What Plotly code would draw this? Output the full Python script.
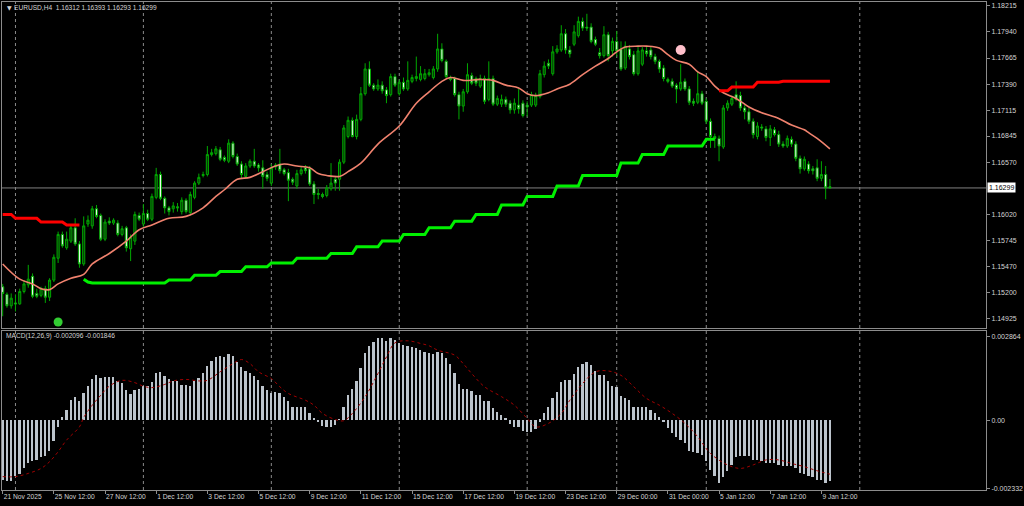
import plotly.graph_objects as go

# EURUSD H4 candles (bar index 0 = 21 Nov 2025 12:00)
opens = [
    1.1526, 1.1518, 1.1506, 1.1509, 1.1508, 1.1521, 1.1528, 1.1537, 1.1519, 1.1517,
    1.1524, 1.1515, 1.1533, 1.1556, 1.1581, 1.1567, 1.1574, 1.1588, 1.1571, 1.1550,
    1.1592, 1.1590, 1.1608, 1.1601, 1.1576, 1.1595, 1.1593, 1.1593, 1.1581, 1.1588,
    1.1566, 1.1574, 1.1601, 1.1592, 1.1603, 1.1597, 1.1620, 1.1644, 1.1619, 1.1609,
    1.1608, 1.1610, 1.1605, 1.1617, 1.1604, 1.1620, 1.1635, 1.1643, 1.1644, 1.1665,
    1.1666, 1.1670, 1.1662, 1.1658, 1.1677, 1.1663, 1.1655, 1.1642, 1.1653, 1.1658,
    1.1654, 1.1651, 1.1644, 1.1635, 1.1652, 1.1655, 1.1649, 1.1646, 1.1639, 1.1632,
    1.1645, 1.1651, 1.1650, 1.1634, 1.1624, 1.1623, 1.1622, 1.1629, 1.1639, 1.1639,
    1.1657, 1.1684, 1.1701, 1.1684, 1.1702, 1.1729, 1.1755, 1.1738, 1.1734, 1.1738,
    1.1733, 1.1728, 1.1747, 1.1729, 1.1741, 1.1734, 1.1742, 1.1745, 1.1744, 1.1745,
    1.1749, 1.1746, 1.1755, 1.1776, 1.1763, 1.1746, 1.1745, 1.1728, 1.1716, 1.1731,
    1.1748, 1.1745, 1.1737, 1.1745, 1.1723, 1.1745, 1.1718, 1.1718, 1.1723, 1.1719,
    1.1712, 1.1717, 1.1719, 1.1717, 1.1717, 1.1717, 1.1726, 1.1749, 1.1761, 1.1750,
    1.1773, 1.1775, 1.1792, 1.1775, 1.1781, 1.1790, 1.1805, 1.1799, 1.1799, 1.1786,
    1.1772, 1.1769, 1.1791, 1.1774, 1.1784, 1.1776, 1.1756, 1.1776, 1.1770, 1.1750,
    1.1760, 1.1774, 1.1775, 1.1768, 1.1763, 1.1756, 1.1744, 1.1742, 1.1738, 1.1734,
    1.1742, 1.1734, 1.1721, 1.1720, 1.1729, 1.1721, 1.1700, 1.1684, 1.1682, 1.1673,
    1.1714, 1.1718, 1.1728, 1.1727, 1.1714, 1.1710, 1.1700, 1.1684, 1.1694, 1.1692,
    1.1683, 1.1691, 1.1686, 1.1676, 1.1674, 1.1681, 1.1676, 1.1661, 1.1650, 1.1655,
    1.1650, 1.1651, 1.1640, 1.1644, 1.16312,
]
highs = [
    1.1529, 1.1520, 1.1519, 1.1518, 1.1524, 1.1533, 1.1549, 1.1540, 1.1524, 1.1526,
    1.1527, 1.1535, 1.1560, 1.1584, 1.1584, 1.1584, 1.1591, 1.1598, 1.1574, 1.1600,
    1.1601, 1.1611, 1.1612, 1.1603, 1.1597, 1.1599, 1.1598, 1.1596, 1.1590, 1.1590,
    1.1581, 1.1605, 1.1604, 1.1613, 1.1607, 1.1624, 1.1651, 1.1647, 1.1621, 1.1611,
    1.1615, 1.1614, 1.1620, 1.1619, 1.1626, 1.1637, 1.1645, 1.1647, 1.1674, 1.1671,
    1.1674, 1.1673, 1.1664, 1.1681, 1.1679, 1.1666, 1.1658, 1.1656, 1.1660, 1.1671,
    1.1656, 1.1659, 1.1647, 1.1655, 1.1656, 1.1671, 1.1651, 1.1650, 1.1641, 1.1649,
    1.1652, 1.1654, 1.1653, 1.1637, 1.1629, 1.1625, 1.1633, 1.1656, 1.1642, 1.1660,
    1.1696, 1.1705, 1.1704, 1.1707, 1.1736, 1.1761, 1.1763, 1.1740, 1.1744, 1.1742,
    1.1736, 1.1750, 1.1750, 1.1744, 1.1746, 1.1763, 1.1749, 1.1768, 1.1758, 1.1755,
    1.1755, 1.1758, 1.1792, 1.1782, 1.1765, 1.1748, 1.1747, 1.1731, 1.1734, 1.1761,
    1.1751, 1.1747, 1.1749, 1.1748, 1.1763, 1.1748, 1.1727, 1.1728, 1.1726, 1.1722,
    1.1724, 1.1734, 1.1722, 1.1721, 1.1731, 1.1730, 1.1754, 1.1763, 1.1765, 1.1779,
    1.1780, 1.1801, 1.1797, 1.1779, 1.1801, 1.1810, 1.1809, 1.1813, 1.1803, 1.1789,
    1.1777, 1.1800, 1.1794, 1.1788, 1.1795, 1.1784, 1.1784, 1.1780, 1.1774, 1.1778,
    1.1778, 1.1778, 1.1778, 1.1771, 1.1765, 1.1759, 1.1746, 1.1745, 1.1740, 1.1760,
    1.1745, 1.1737, 1.1724, 1.1752, 1.1732, 1.1724, 1.1703, 1.1687, 1.1685, 1.1717,
    1.1722, 1.1727, 1.1742, 1.1731, 1.1717, 1.1714, 1.1703, 1.1699, 1.1697, 1.1695,
    1.1696, 1.1694, 1.1690, 1.1679, 1.1685, 1.1684, 1.1679, 1.1664, 1.1663, 1.1658,
    1.1653, 1.1660, 1.1658, 1.1653, 1.16393,
]
lows = [
    1.1495, 1.1504, 1.1503, 1.1500, 1.1507, 1.1519, 1.1525, 1.1514, 1.1514, 1.1515,
    1.1509, 1.1511, 1.1531, 1.1551, 1.1567, 1.1565, 1.1572, 1.1569, 1.1546, 1.1548,
    1.1589, 1.1587, 1.1598, 1.1574, 1.1574, 1.1591, 1.1591, 1.1579, 1.1579, 1.1563,
    1.1553, 1.1570, 1.1595, 1.1589, 1.1595, 1.1595, 1.1618, 1.1617, 1.1603, 1.1601,
    1.1604, 1.1605, 1.1602, 1.1603, 1.1601, 1.1618, 1.1633, 1.1641, 1.1642, 1.1663,
    1.1664, 1.1658, 1.1657, 1.1656, 1.1661, 1.1653, 1.1640, 1.1640, 1.1651, 1.1651,
    1.1647, 1.1629, 1.1637, 1.1632, 1.1649, 1.1645, 1.1643, 1.1616, 1.1633, 1.1629,
    1.1643, 1.1645, 1.1632, 1.1613, 1.1618, 1.1619, 1.1620, 1.1627, 1.1627, 1.1627,
    1.1655, 1.1682, 1.1683, 1.1681, 1.1700, 1.1727, 1.1736, 1.1732, 1.1732, 1.1729,
    1.1719, 1.1726, 1.1736, 1.1727, 1.1732, 1.1732, 1.1740, 1.1742, 1.1742, 1.1743,
    1.1747, 1.1744, 1.1752, 1.1762, 1.1745, 1.1742, 1.1726, 1.1702, 1.1710, 1.1729,
    1.1738, 1.1737, 1.1735, 1.1718, 1.1721, 1.1716, 1.1716, 1.1715, 1.1715, 1.1708,
    1.1708, 1.1708, 1.1704, 1.1705, 1.1715, 1.1715, 1.1724, 1.1746, 1.1755, 1.1748,
    1.1771, 1.1773, 1.1771, 1.1767, 1.1779, 1.1788, 1.1795, 1.1795, 1.1782, 1.1779,
    1.1766, 1.1767, 1.1763, 1.1768, 1.1768, 1.1753, 1.1754, 1.1765, 1.1748, 1.1748,
    1.1758, 1.1768, 1.1765, 1.1760, 1.1751, 1.1742, 1.1740, 1.1735, 1.1719, 1.1732,
    1.1732, 1.1717, 1.1716, 1.1718, 1.1717, 1.1697, 1.1672, 1.1672, 1.1658, 1.1671,
    1.1711, 1.1716, 1.1721, 1.1711, 1.1702, 1.1697, 1.1682, 1.1681, 1.1690, 1.1679,
    1.1674, 1.1684, 1.1673, 1.1672, 1.1672, 1.1673, 1.1658, 1.1645, 1.1648, 1.1645,
    1.1644, 1.1637, 1.1637, 1.1618, 1.16293,
]
closes = [
    1.1519, 1.1506, 1.1514, 1.1508, 1.1521, 1.1529, 1.1534, 1.1516, 1.1516, 1.1524,
    1.1515, 1.1533, 1.1557, 1.1581, 1.1569, 1.1576, 1.1588, 1.1571, 1.1550, 1.1590,
    1.1596, 1.1608, 1.1600, 1.1576, 1.1594, 1.1593, 1.1596, 1.1581, 1.1587, 1.1567,
    1.1578, 1.1602, 1.1597, 1.1603, 1.1597, 1.1621, 1.1644, 1.1619, 1.1609, 1.1605,
    1.1611, 1.1609, 1.1617, 1.1605, 1.1623, 1.1635, 1.1641, 1.1644, 1.1665, 1.1667,
    1.1671, 1.1660, 1.1659, 1.1677, 1.1663, 1.1655, 1.1644, 1.1653, 1.1658, 1.1653,
    1.1651, 1.1642, 1.1640, 1.1651, 1.1654, 1.1648, 1.1645, 1.1638, 1.1636, 1.1645,
    1.1649, 1.1648, 1.1634, 1.1623, 1.1623, 1.1621, 1.1630, 1.1635, 1.1635, 1.1657,
    1.1693, 1.1701, 1.1684, 1.1702, 1.1729, 1.1755, 1.1738, 1.1734, 1.1738, 1.1732,
    1.1727, 1.1747, 1.1738, 1.1741, 1.1734, 1.1743, 1.1746, 1.1747, 1.1750, 1.1750,
    1.1751, 1.1755, 1.1776, 1.1764, 1.1747, 1.1744, 1.1728, 1.1716, 1.1731, 1.1749,
    1.1740, 1.1740, 1.1745, 1.1721, 1.1745, 1.1718, 1.1724, 1.1723, 1.1718, 1.1712,
    1.1719, 1.1713, 1.1706, 1.1715, 1.1728, 1.1727, 1.1750, 1.1758, 1.1758, 1.1773,
    1.1776, 1.1792, 1.1775, 1.1771, 1.1794, 1.1805, 1.1798, 1.1798, 1.1784, 1.1781,
    1.1769, 1.1791, 1.1769, 1.1784, 1.1774, 1.1755, 1.1779, 1.1768, 1.1750, 1.1774,
    1.1775, 1.1771, 1.1768, 1.1763, 1.1755, 1.1745, 1.1742, 1.1737, 1.1734, 1.1741,
    1.1734, 1.1720, 1.1719, 1.1729, 1.1719, 1.1700, 1.1684, 1.1682, 1.1674, 1.1714,
    1.1719, 1.1724, 1.1723, 1.1714, 1.1710, 1.1700, 1.1686, 1.1695, 1.1693, 1.1683,
    1.1692, 1.1686, 1.1676, 1.1674, 1.1682, 1.1676, 1.1661, 1.1650, 1.1660, 1.1648,
    1.1648, 1.1640, 1.1644, 1.1630, 1.16299,
]
bars = list(range(len(closes)))

# moving average (salmon line), read at a set of bars
ma_bars = [0, 4, 7, 9, 11, 13, 16, 19, 21, 25, 29, 32, 35, 39, 43, 47, 50, 52, 55, 58,
           61, 64, 66, 69, 72, 74, 76, 79, 81, 84, 88, 93, 97, 100, 103, 105, 108, 112, 115, 118,
           121, 123, 125, 128, 130, 133, 136, 139, 142, 144, 146, 149, 151, 154, 156, 158, 161, 163, 165, 167,
           169, 172, 175, 178, 182, 185, 188, 189, 191, 194]
ma_vals = [1.1550, 1.1534, 1.1529, 1.1524, 1.1523, 1.1529, 1.1535, 1.1539, 1.1550, 1.1561,
           1.1574, 1.1586, 1.1591, 1.1598, 1.1600, 1.1609, 1.1621, 1.1628, 1.1639, 1.1641,
           1.1647, 1.1653, 1.1655, 1.1653, 1.1651, 1.1645, 1.1643, 1.1642, 1.1647, 1.1656,
           1.1676, 1.1695, 1.1719, 1.1731, 1.1742, 1.1746, 1.1743, 1.1744, 1.1743, 1.1738,
           1.1735, 1.1729, 1.1727, 1.1730, 1.1734, 1.1739, 1.1749, 1.1758, 1.1766, 1.1773,
           1.1778, 1.1779, 1.1779, 1.1777, 1.1770, 1.1764, 1.1760, 1.1752, 1.1747, 1.1737,
           1.1730, 1.1724, 1.1715, 1.1709, 1.1703, 1.1696, 1.1691, 1.1688, 1.1682, 1.1671]

# red trailing stop (above price), two pieces
red_bars_a = list(range(0, 19))
red_vals_a = [1.1602, 1.1602, 1.1602, 1.1598, 1.1598, 1.1598, 1.1598, 1.1598, 1.1598,
              1.1594, 1.1594, 1.1594, 1.1594, 1.1594, 1.1594, 1.1591, 1.1591, 1.1591, 1.1591]
red_bars_b = list(range(168, 195))
red_vals_b = [1.1732, 1.1732, 1.1732,
              1.1736, 1.1736, 1.1736, 1.1736, 1.1736, 1.1736,
              1.1741, 1.1741, 1.1741, 1.1741, 1.1741, 1.1741,
              1.1742, 1.1742, 1.1742, 1.1742, 1.1742, 1.1742,
              1.1742, 1.1742, 1.1742, 1.1742, 1.1742, 1.1742]

# green trailing stop (below price)
green_bars = list(range(19, 168))
green_vals = [
    1.1534, 1.1531,
    1.1530, 1.1530, 1.1530, 1.1530, 1.1530, 1.1530, 1.1530, 1.1530, 1.1530,
    1.1530, 1.1530, 1.1530, 1.1530, 1.1530, 1.1530, 1.1530, 1.1530, 1.1530,
    1.1533, 1.1533, 1.1533, 1.1533, 1.1533, 1.1533,
    1.1538, 1.1538, 1.1538, 1.1538, 1.1538, 1.1538,
    1.1542, 1.1542, 1.1542, 1.1542, 1.1542, 1.1542,
    1.1547, 1.1547, 1.1547, 1.1547, 1.1547, 1.1547,
    1.1551, 1.1551, 1.1551, 1.1551, 1.1551, 1.1551,
    1.1556, 1.1556, 1.1556, 1.1556, 1.1556, 1.1556, 1.1556, 1.1556,
    1.1561, 1.1561, 1.1561, 1.1561, 1.1561, 1.1561,
    1.1568, 1.1568, 1.1568, 1.1568, 1.1568, 1.1568,
    1.1574, 1.1574, 1.1574, 1.1574, 1.1574,
    1.1581, 1.1581, 1.1581, 1.1581, 1.1581, 1.1581,
    1.1588, 1.1588, 1.1588, 1.1588, 1.1588, 1.1588,
    1.1595, 1.1595, 1.1595, 1.1595, 1.1595,
    1.1602, 1.1602, 1.1602, 1.1602, 1.1602, 1.1602,
    1.1612, 1.1612, 1.1612, 1.1612, 1.1612, 1.1612,
    1.1621, 1.1621, 1.1621, 1.1621, 1.1621, 1.1621, 1.1621,
    1.1632, 1.1632, 1.1632, 1.1632, 1.1632, 1.1632,
    1.1643, 1.1643, 1.1643, 1.1643, 1.1643, 1.1643, 1.1643, 1.1643, 1.1643,
    1.1656, 1.1656, 1.1656, 1.1656, 1.1656,
    1.1665, 1.1665, 1.1665, 1.1665, 1.1665, 1.1665,
    1.1674, 1.1674, 1.1674, 1.1674, 1.1674, 1.1674, 1.1674, 1.1674, 1.1674,
    1.1681, 1.1681, 1.1681,
]

# signal dots
buy_dot = (13, 1.1489)
sell_dot = (159, 1.1775)

# MACD(12,26,9) main as histogram
macd_main = [
    -0.00205, -0.00210, -0.00210, -0.00193, -0.00184, -0.00165, -0.00146, -0.00142, -0.00136, -0.00128,
    -0.00125, -0.00108, -0.00072, -0.00023, 0.00008, 0.00034, 0.00068, 0.00077, 0.00065, 0.00093,
    0.00116, 0.00141, 0.00153, 0.00142, 0.00147, 0.00147, 0.00147, 0.00131, 0.00127, 0.00102,
    0.00089, 0.00101, 0.00105, 0.00114, 0.00114, 0.00128, 0.00159, 0.00165, 0.00151, 0.00140,
    0.00131, 0.00131, 0.00119, 0.00119, 0.00114, 0.00134, 0.00142, 0.00159, 0.00184, 0.00201,
    0.00216, 0.00218, 0.00216, 0.00224, 0.00218, 0.00199, 0.00182, 0.00168, 0.00161, 0.00151,
    0.00136, 0.00117, 0.00102, 0.00093, 0.00094, 0.00091, 0.00077, 0.00063, 0.00045, 0.00043,
    0.00043, 0.00043, 0.00025, 0.00006, -0.00008, -0.00020, -0.00026, -0.00026, -0.00017, 0.00002,
    0.00043, 0.00085, 0.00105, 0.00131, 0.00176, 0.00227, 0.00252, 0.00266, 0.00279, 0.00279,
    0.00271, 0.00279, 0.00273, 0.00264, 0.00256, 0.00252, 0.00250, 0.00244, 0.00239, 0.00233,
    0.00227, 0.00224, 0.00233, 0.00227, 0.00210, 0.00191, 0.00161, 0.00123, 0.00105, 0.00105,
    0.00097, 0.00085, 0.00085, 0.00063, 0.00063, 0.00040, 0.00028, 0.00017, 0.00003, -0.00014,
    -0.00023, -0.00026, -0.00038, -0.00040, -0.00043, -0.00031, -0.00006, 0.00023, 0.00045, 0.00074,
    0.00094, 0.00128, 0.00136, 0.00136, 0.00157, 0.00182, 0.00191, 0.00197, 0.00188, 0.00168,
    0.00153, 0.00153, 0.00131, 0.00114, 0.00111, 0.00082, 0.00076, 0.00068, 0.00043, 0.00043,
    0.00043, 0.00043, 0.00034, 0.00025, 0.00011, -0.00009, -0.00028, -0.00045, -0.00060, -0.00068,
    -0.00080, -0.00108, -0.00111, -0.00114, -0.00119, -0.00142, -0.00171, -0.00193, -0.00216, -0.00197,
    -0.00176, -0.00153, -0.00127, -0.00122, -0.00122, -0.00125, -0.00136, -0.00136, -0.00142, -0.00148,
    -0.00148, -0.00146, -0.00153, -0.00159, -0.00157, -0.00159, -0.00165, -0.00182, -0.00184, -0.00193,
    -0.00196, -0.00205, -0.00205, -0.00216, -0.002096,
]
# MACD signal (dotted), read at a set of bars
signal_bars = [0, 3, 6, 9, 11, 13, 15, 18, 19, 21, 23, 25, 28, 31, 33, 35, 38, 40, 43, 46,
               48, 51, 54, 56, 58, 60, 63, 65, 67, 71, 73, 75, 78, 80, 82, 85, 88, 90, 92, 95,
               98, 100, 102, 106, 108, 110, 113, 117, 120, 123, 125, 128, 131, 133, 136, 139, 142, 145, 148, 151,
               154, 157, 160, 163, 166, 170, 173, 176, 179, 182, 185, 188, 191, 194]
signal_vals = [-0.00193, -0.00193, -0.00182, -0.00165, -0.00142, -0.00108, -0.00068, -0.00023, 0.00009, 0.00051,
               0.00085, 0.00116, 0.00136, 0.00128, 0.00116, 0.00111, 0.00122, 0.00134, 0.00139, 0.00134,
               0.00136, 0.00165, 0.00193, 0.00207, 0.00193, 0.00165, 0.00142, 0.00114, 0.00091, 0.00068,
               0.00051, 0.00023, 0.00002, -0.00002, 0.00023, 0.00080, 0.00159, 0.00216, 0.00264, 0.00271,
               0.00262, 0.00254, 0.00239, 0.00222, 0.00193, 0.00159, 0.00114, 0.00080, 0.00051, 0.00006,
               -0.00023, -0.00011, 0.00023, 0.00068, 0.00125, 0.00165, 0.00168, 0.00153, 0.00114, 0.00074,
               0.00051, 0.00023, -0.00011, -0.00057, -0.00114, -0.00153, -0.00165, -0.00153, -0.00136, -0.00136,
               -0.00148, -0.00159, -0.00173, -0.001846]

# axes
time_tick_bars = [0, 12, 24, 36, 48, 60, 72, 84, 96, 108, 120, 132, 144, 156, 168, 180, 192]
time_tick_labels = ["21 Nov 2025", "25 Nov 12:00", "27 Nov 12:00", "1 Dec 12:00", "3 Dec 12:00",
                    "5 Dec 12:00", "9 Dec 12:00", "11 Dec 12:00", "15 Dec 12:00", "17 Dec 12:00",
                    "19 Dec 12:00", "23 Dec 12:00", "29 Dec 00:00", "31 Dec 00:00", "5 Jan 12:00",
                    "7 Jan 12:00", "9 Jan 12:00"]
week_start_bars = [3, 33, 63, 93, 123, 144, 165, 201]
price_ticks = [1.18215, 1.17940, 1.17665, 1.17390, 1.17115, 1.16845, 1.16570,
               1.16020, 1.15745, 1.15470, 1.15200, 1.14925]
macd_ticks = [0.002864, 0.0, -0.002332]
macd_tick_labels = ["0.002864", "0.00", "-0.002332"]
last_price = 1.16299

FONT = "Liberation Sans"
TXT = "#d4d4d4"
FRAME = "#8c8c8c"

fig = go.Figure()

fig.add_trace(go.Candlestick(
    x=bars, open=opens, high=highs, low=lows, close=closes,
    increasing=dict(line=dict(color="#00a800", width=1), fillcolor="#083608"),
    decreasing=dict(line=dict(color="#00a800", width=1), fillcolor="#e8f8e8"),
    whiskerwidth=0, hoverinfo="skip", xaxis="x", yaxis="y"))

fig.add_trace(go.Scatter(x=ma_bars, y=ma_vals, mode="lines",
                         line=dict(color="#f0826e", width=1.6, shape="spline"),
                         xaxis="x", yaxis="y"))
fig.add_trace(go.Scatter(x=red_bars_a, y=red_vals_a, mode="lines",
                         line=dict(color="#ff0000", width=3), xaxis="x", yaxis="y"))
fig.add_trace(go.Scatter(x=red_bars_b, y=red_vals_b, mode="lines",
                         line=dict(color="#ff0000", width=3), xaxis="x", yaxis="y"))
fig.add_trace(go.Scatter(x=green_bars, y=green_vals, mode="lines",
                         line=dict(color="#00f000", width=3), xaxis="x", yaxis="y"))
fig.add_trace(go.Scatter(x=[buy_dot[0]], y=[buy_dot[1]], mode="markers",
                         marker=dict(color="#32cd32", size=9), xaxis="x", yaxis="y"))
fig.add_trace(go.Scatter(x=[sell_dot[0]], y=[sell_dot[1]], mode="markers",
                         marker=dict(color="#ffc0cb", size=10), xaxis="x", yaxis="y"))

fig.add_trace(go.Bar(x=bars, y=macd_main, width=0.42,
                     marker=dict(color="#bcc4cc", line=dict(width=0)),
                     xaxis="x2", yaxis="y2"))
fig.add_trace(go.Scatter(x=signal_bars, y=signal_vals, mode="lines",
                         line=dict(color="#a00000", width=1, dash="dot", shape="spline"),
                         xaxis="x2", yaxis="y2"))

x_range = [-0.16, 230.6]
shapes = []
for b in week_start_bars:
    shapes.append(dict(type="line", xref="x", yref="paper", x0=b, x1=b, y0=0, y1=1,
                       layer="below", line=dict(color="#8a8a8a", width=1, dash="dot")))
shapes.append(dict(type="line", xref="paper", yref="y", x0=0, x1=1, y0=last_price, y1=last_price,
                   layer="below", line=dict(color="#808080", width=1)))

annotations = [
    dict(xref="paper", yref="paper", x=0.003, y=0.9895, text="▼", showarrow=False,
         xanchor="left", yanchor="middle", font=dict(family="DejaVu Sans", size=6, color=TXT)),
    dict(xref="paper", yref="paper", x=0.0105, y=0.9895,
         text="EURUSD,H4  1.16312 1.16393 1.16293 1.16299", showarrow=False,
         xanchor="left", yanchor="middle", font=dict(family=FONT, size=6.6, color=TXT)),
    dict(xref="paper", yref="paper", x=0.002, y=0.315,
         text="MACD(12,26,9) -0.002096 -0.001846", showarrow=False,
         xanchor="left", yanchor="middle", font=dict(family=FONT, size=6.6, color=TXT)),
    dict(xref="paper", yref="y", x=1.0015, y=last_price, text="1.16299", showarrow=False,
         xanchor="left", yanchor="middle", bgcolor="#ffffff", borderpad=1,
         font=dict(family=FONT, size=7, color="#000000")),
]

axis_common = dict(showgrid=False, zeroline=False, showline=True, mirror=True,
                   linecolor=FRAME, linewidth=1)

fig.update_layout(
    width=1024, height=506,
    paper_bgcolor="#000000", plot_bgcolor="#000000",
    margin=dict(l=1, r=36, t=1, b=16),
    showlegend=False, hovermode=False, bargap=0,
    font=dict(family=FONT, size=7, color=TXT),
    xaxis=dict(domain=[0, 1], anchor="y", range=x_range, showticklabels=False, ticks="",
               rangeslider=dict(visible=False), **axis_common),
    yaxis=dict(domain=[0.3313, 1], anchor="x", side="right", range=[1.14823, 1.18254],
               tickvals=price_ticks, ticktext=[f"{v:.5f}" for v in price_ticks],
               ticks="outside", ticklen=3, tickcolor=FRAME,
               tickfont=dict(family=FONT, size=7, color=TXT), **axis_common),
    xaxis2=dict(domain=[0, 1], anchor="y2", range=x_range, matches="x",
                tickvals=time_tick_bars, ticktext=time_tick_labels,
                ticklabelposition="outside right", ticks="outside", ticklen=3, tickcolor=FRAME,
                tickfont=dict(family=FONT, size=6.7, color=TXT), **axis_common),
    yaxis2=dict(domain=[0, 0.3252], anchor="x2", side="right", range=[-0.002387, 0.003035],
                tickvals=macd_ticks, ticktext=macd_tick_labels,
                ticks="outside", ticklen=3, tickcolor=FRAME,
                tickfont=dict(family=FONT, size=7, color=TXT), **axis_common),
    shapes=shapes,
    annotations=annotations,
)

# page body has a default 8px margin; drop it so the chart fills the window
fig.write_html("out.html", config={"displayModeBar": False},
               post_script="document.body.style.margin='0px';document.body.style.background='#000';")
